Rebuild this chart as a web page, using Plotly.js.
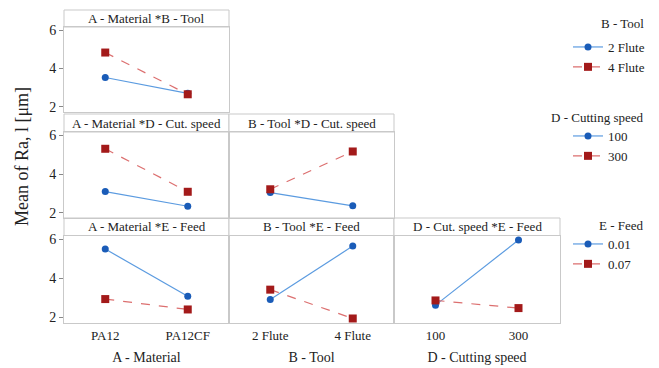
<!DOCTYPE html>
<html><head><meta charset="utf-8">
<script src="https://cdn.plot.ly/plotly-3.0.1.min.js"></script>
<style>body{margin:0;padding:0;background:#fff}#c{width:659px;height:368px}</style>
</head><body><div id="c"></div>
<script>
const materials = ["PA12", "PA12CF"];
const tools = ["2 Flute", "4 Flute"];
const speeds = ["100", "300"];
const materialTicks = ["PA12", "PA12CF"];
const toolTicks = ["2 Flute", "4 Flute"];
const speedTicks = ["100", "300"];

const AB_2flute = [3.53, 2.70], AB_4flute = [4.84, 2.65];
const AD_100 = [3.09, 2.33], AD_300 = [5.31, 3.08];
const BD_100 = [3.04, 2.35], BD_300 = [3.21, 5.17];
const AE_001 = [5.49, 3.08], AE_007 = [2.94, 2.41];
const BE_001 = [2.92, 5.64], BE_007 = [3.42, 1.95];
const DE_001 = [2.63, 5.95], DE_007 = [2.87, 2.48];

const stripTitles = ["A - Material *B - Tool", "A - Material *D - Cut. speed", "B - Tool *D - Cut. speed",
  "A - Material *E - Feed", "B - Tool *E - Feed", "D - Cut. speed *E - Feed"];
const legendTitles = ["B - Tool", "D - Cutting speed", "E - Feed"];
const legendNames = [["2 Flute", "4 Flute"], ["100", "300"], ["0.01", "0.07"]];

const W = 659, H = 368;
const FONT = "Liberation Serif";
const BLUE_L = "#5b9be0", BLUE_M = "#1a5cb8";
const RED_L = "#dc6f6f", RED_M = "#a31a1a";
const GRID = "#c9c9c9";

const cols = [[64, 229], [229, 394], [394, 560]];
const rows = [{s: [10, 27], p: [27, 112]}, {s: [114, 132], p: [132, 218]}, {s: [218, 235.5], p: [235.5, 323]}];
const px = v => v / W, py = v => 1 - v / H;

const panels = [
  [0, 0, materials, AB_2flute, AB_4flute, 0],
  [1, 0, materials, AD_100, AD_300, 1],
  [1, 1, tools, BD_100, BD_300, null],
  [2, 0, materials, AE_001, AE_007, 2],
  [2, 1, tools, BE_001, BE_007, null],
  [2, 2, speeds, DE_001, DE_007, null],
];

const data = [];
const layout = {
  width: W, height: H, margin: {l: 0, r: 0, t: 0, b: 0},
  paper_bgcolor: "#fff", plot_bgcolor: "#fff",
  font: {family: FONT, size: 13, color: "#222"},
  shapes: [], annotations: []
};

const legendKeys = ["legend", "legend2", "legend3"];
const legendTop = [32, 121, 229];
legendKeys.forEach((k, i) => {
  layout[k] = {x: px(568), y: py(legendTop[i]), xanchor: "left", yanchor: "top",
    bgcolor: "rgba(0,0,0,0)", font: {family: FONT, size: 13, color: "#222"},
    tracegroupgap: 0, itemwidth: 30};
});
const legendTitleY = [23, 117, 226];
legendTitles.forEach((t, i) => {
  layout.annotations.push({text: t, x: px(646), y: py(legendTitleY[i]), xref: "paper", yref: "paper",
    xanchor: "right", yanchor: "middle", showarrow: false, font: {family: FONT, size: 13, color: "#222"}});
});

panels.forEach((p, i) => {
  const [r, c, cats, s1, s2, leg] = p;
  const n = i + 1;
  const xa = n === 1 ? "xaxis" : "xaxis" + n;
  const ya = n === 1 ? "yaxis" : "yaxis" + n;
  const xr = n === 1 ? "x" : "x" + n;
  const yr = n === 1 ? "y" : "y" + n;
  const bottom = (r === 2);
  const ticktext = cats === materials ? materialTicks : (cats === tools ? toolTicks : speedTicks);
  const xtitle = cats === materials ? "A - Material" : (cats === tools ? "B - Tool" : "D - Cutting speed");
  layout[xa] = {
    domain: [px(cols[c][0]), px(cols[c][1])], anchor: yr,
    type: "category", categoryorder: "array", categoryarray: cats,
    range: [-0.5, 1.5], showgrid: false, zeroline: false,
    showline: true, mirror: true, linecolor: GRID, linewidth: 1,
    ticks: "", showticklabels: bottom, tickvals: cats, ticktext: ticktext,
    tickfont: {family: FONT, size: 13, color: "#222"},
    title: bottom ? {text: xtitle, font: {family: FONT, size: 14, color: "#222"}, standoff: 10} : {text: ""}
  };
  layout[ya] = {
    domain: [py(rows[r].p[1]), py(rows[r].p[0])], anchor: xr,
    range: [1.72, 6.18], showgrid: false, zeroline: false,
    showline: true, mirror: true, linecolor: GRID, linewidth: 1,
    tickvals: [2, 4, 6], showticklabels: c === 0,
    ticks: c === 0 ? "outside" : "", ticklen: 4, tickcolor: "#888",
    tickfont: {family: FONT, size: 14, color: "#222"}
  };
  const common = {xaxis: xr, yaxis: yr, type: "scatter", mode: "lines+markers", x: cats};
  const lg = leg === null ? null : legendKeys[leg];
  const t1 = Object.assign({}, common, {y: s1,
    name: leg === null ? "" : legendNames[leg][0],
    line: {color: BLUE_L, width: 1.2},
    marker: {color: BLUE_M, size: 7, symbol: "circle"},
    showlegend: leg !== null});
  const t2 = Object.assign({}, common, {y: s2,
    name: leg === null ? "" : legendNames[leg][1],
    line: {color: RED_L, width: 1.2, dash: "dash"},
    marker: {color: RED_M, size: 8, symbol: "square"},
    showlegend: leg !== null});
  if (lg) { t1.legend = lg; t2.legend = lg; }
  data.push(t1, t2);
  layout.shapes.push({type: "rect", xref: "paper", yref: "paper",
    x0: px(cols[c][0]), x1: px(cols[c][1]), y0: py(rows[r].s[1]), y1: py(rows[r].s[0]),
    line: {color: GRID, width: 1}, fillcolor: "#fff", layer: "below"});
  layout.annotations.push({text: stripTitles[i], xref: "paper", yref: "paper",
    x: px((cols[c][0] + cols[c][1]) / 2), y: py((rows[r].s[0] + rows[r].s[1]) / 2),
    xanchor: "center", yanchor: "middle", showarrow: false,
    font: {family: FONT, size: 13, color: "#222"}});
});

layout.annotations.push({text: "Mean of Ra, l [μm]", xref: "paper", yref: "paper",
  x: px(22), y: py(157), xanchor: "center", yanchor: "middle", textangle: -90, showarrow: false,
  font: {family: FONT, size: 18, color: "#222"}});

Plotly.newPlot("c", data, layout, {displayModeBar: false, staticPlot: true});
</script></body></html>
